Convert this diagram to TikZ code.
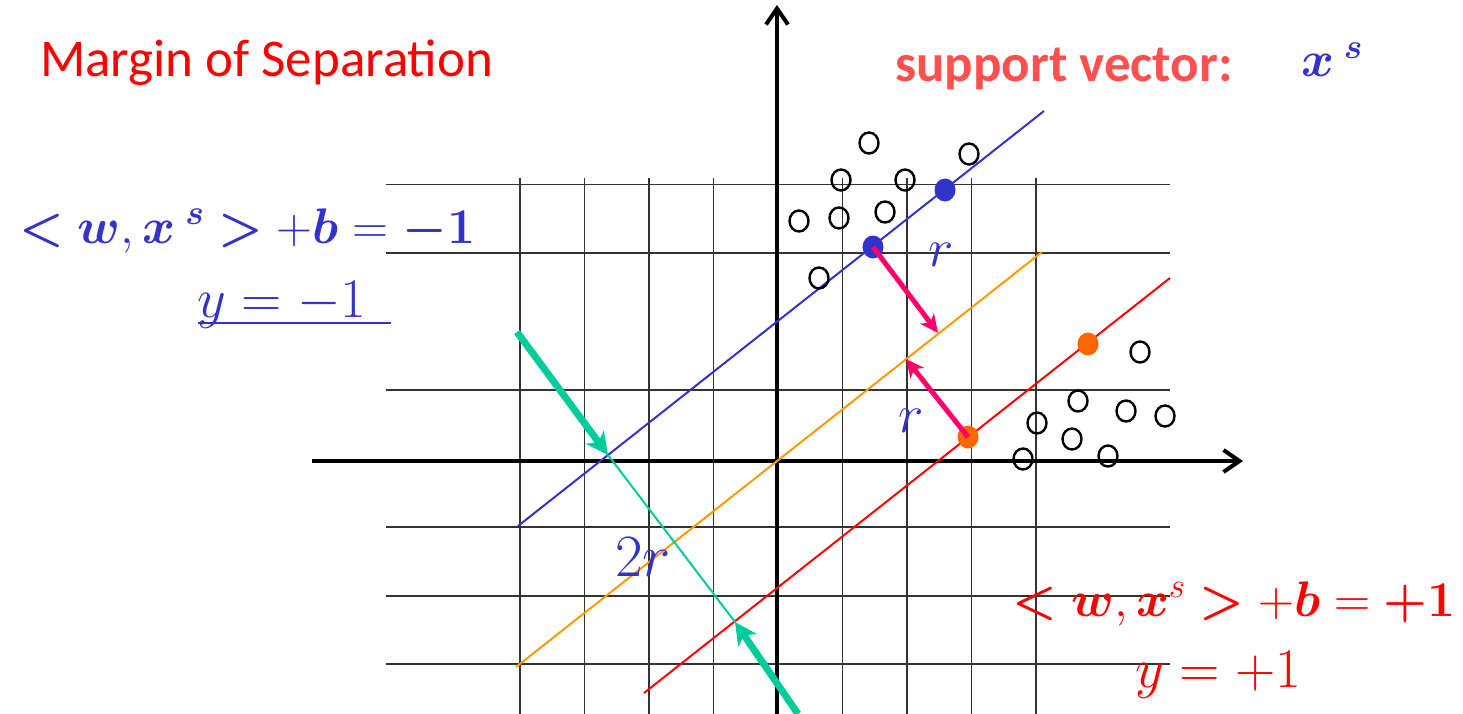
\RequirePackage{fix-cm}
\documentclass[tikz,border=0pt]{standalone}
\usepackage{bm}
\usepackage{fontspec}
\setmainfont{Carlito}
\usetikzlibrary{arrows.meta,shapes.geometric}
\definecolor{bluec}{HTML}{3333CC}
\definecolor{redc}{HTML}{FF0000}
\definecolor{salmonc}{HTML}{FF5050}
\definecolor{orangeline}{HTML}{FF9900}
\definecolor{orangedot}{HTML}{FF6600}
\definecolor{magentac}{HTML}{FF0066}
\definecolor{greenc}{HTML}{00CC99}
\newcommand{\labXS}{$\bm{x}^{\mkern5mu\bm{s}}$}
\newcommand{\labEqNeg}{$\bm{<}\bm{w},\bm{x}^{\mkern5mu\bm{s}}\bm{>}+\bm{b}=\bm{-}\bm{1}$}
\newcommand{\labEqPos}{$\bm{<}\bm{w},\bm{x}^{s}\bm{>}+\bm{b}=\bm{+}\bm{1}$}
\newcommand{\labYNeg}{$y=-1$}
\newcommand{\labYPos}{$y=+1$}
\newcommand{\labR}{$r$}
\newcommand{\labTwoR}{$2r$}
\tikzset{
  gridline/.style={draw=black!80,line width=1.4pt},
  axisline/.style={draw=black,line width=4pt,-{Straight Barb[length=16pt,width=22pt,line width=4pt]}},
  hyper/.style={line width=2pt},
  bdot/.style={ellipse,fill=bluec,minimum width=21pt,minimum height=23pt,inner sep=0pt},
  odot/.style={ellipse,fill=orangedot,minimum width=21pt,minimum height=23pt,inner sep=0pt},
  ocirc/.style={ellipse,draw=black,line width=2.4pt,minimum width=19pt,minimum height=21pt,inner sep=0pt},
  marrow/.style={draw=magentac,line width=5pt,-{Stealth[length=18pt,width=17pt,inset=5pt]}},
  garrow/.style={draw=greenc,line width=7pt,-{Stealth[length=22pt,width=22pt,inset=6pt]}},
  eqfont/.style={inner sep=0pt,anchor=base west,font=\fontsize{50}{60}\selectfont},
  rfont/.style={inner sep=0pt,anchor=base west,font=\fontsize{54}{60}\selectfont},
  ylab/.style={inner sep=0pt,anchor=base west,font=\fontsize{56}{60}\selectfont},
  twolab/.style={inner sep=0pt,anchor=base west,font=\fontsize{60}{60}\selectfont},
  textlab/.style={inner sep=0pt,anchor=base west,font=\fontsize{53}{60}\selectfont},
}
\begin{document}
\begin{tikzpicture}[x=1pt,y=-1pt]
\useasboundingbox (0,0) rectangle (1463,714);
% grid
\foreach \x in {520,584.5,649,713.5,842.5,907,971.5,1036}
  \draw[gridline] (\x,178) -- (\x,714);
\foreach \y in {184.5,253,390,527,596,664}
  \draw[gridline] (386,\y) -- (1170,\y);
% axes
\coordinate (xstart) at (312,461);
\coordinate (xend) at (1243,461);
\coordinate (ystart) at (777,714);
\coordinate (yend) at (777,5);
\draw[axisline] (xstart) -- (xend);
\draw[axisline] (ystart) -- (yend);
% hyperplanes
\coordinate (b1) at (518,526); \coordinate (b2) at (1044,111);
\coordinate (o1) at (516,667); \coordinate (o2) at (1042,252);
\coordinate (r1) at (644,693); \coordinate (r2) at (1170,278);
\draw[hyper,bluec] (b1) -- (b2);
\draw[hyper,orangeline] (o1) -- (o2);
\draw[hyper,redc] (r1) -- (r2);
% open circles
\node[ocirc] (c1) at (869,143) {};
\node[ocirc] (c2) at (969,154) {};
\node[ocirc] (c3) at (841,180) {};
\node[ocirc] (c4) at (905,180) {};
\node[ocirc] (c5) at (799,221) {};
\node[ocirc] (c6) at (839,218) {};
\node[ocirc] (c7) at (885,212) {};
\node[ocirc] (c8) at (819,278) {};
\node[ocirc] (c9) at (1140,352) {};
\node[ocirc] (c10) at (1078,401) {};
\node[ocirc] (c11) at (1126,411) {};
\node[ocirc] (c12) at (1165,416) {};
\node[ocirc] (c13) at (1037,423) {};
\node[ocirc] (c14) at (1072,439) {};
\node[ocirc] (c15) at (1023,459) {};
\node[ocirc] (c16) at (1108,456) {};
% support vectors
\node[bdot] (s1) at (945,190) {};
\node[bdot] (s2) at (873,247) {};
\node[odot] (s3) at (1088,344) {};
\node[odot] (s4) at (968,437) {};
% margin arrows
\coordinate (m1) at (938,333);
\coordinate (m2) at (906,359);
\draw[marrow] (s2.center) -- (m1);
\draw[marrow] (s4.center) -- (m2);
% 2r arrows
\coordinate (g0) at (517,332);
\coordinate (gA) at (608,455);
\coordinate (gB) at (735,622);
\coordinate (g3) at (798,714);
\draw[greenc,line width=2pt] (gA) -- (gB);
\draw[garrow] (g0) -- (gA);
\draw[garrow] (g3) -- (gB);
% texts
\node[textlab,text=redc] (title) at (40,77) {Margin of Separation};
\node[textlab,text=salmonc,font=\fontsize{53}{60}\selectfont\bfseries] (sv) at (895,82) {support vector:};
\node[eqfont,text=bluec] (xslab) at (1301,77) {\labXS};
\node[eqfont,text=bluec] (eqneg) at (19,243) {\labEqNeg};
\node[ylab,text=bluec] (yneg) at (197,317) {\labYNeg};
\coordinate (ul1) at (198,323);
\coordinate (ul2) at (391,323);
\draw[bluec,line width=2pt] (ul1) -- (ul2);
\node[eqfont,text=redc,anchor=base east] (eqpos) at (1456,616) {\labEqPos};
\node[ylab,text=redc] (ypos) at (1135,687) {\labYPos};
\node[rfont,text=bluec] (rlabA) at (928,266) {\labR};
\node[rfont,text=bluec] (rlabB) at (898,432) {\labR};
\node[twolab,text=bluec] (tworlab) at (615,576) {\labTwoR};
\end{tikzpicture}
\end{document}
